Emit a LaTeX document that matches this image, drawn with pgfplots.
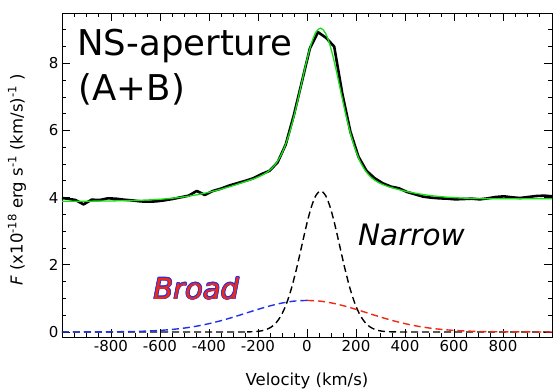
\documentclass[border=0pt]{standalone}
\usepackage{fontspec}
\setmainfont{DejaVu Sans}
\usepackage{pgfplots}
\usepackage{pgfplotstable}
\pgfplotsset{compat=1.18}

\definecolor{fitgreen}{RGB}{20,225,20}
\definecolor{broadblue}{RGB}{30,50,235}
\definecolor{broadred}{RGB}{240,40,20}

% observed spectrum
\pgfplotstableread{
v F
-1000 3.99
-978 3.97
-945 3.93
-912 3.80
-879 3.94
-846 3.93
-813 3.98
-780 3.97
-747 3.94
-714 3.92
-681 3.89
-648 3.88
-615 3.89
-582 3.92
-549 3.96
-516 4.01
-483 4.06
-450 4.20
-417 4.08
-384 4.20
-351 4.27
-318 4.36
-285 4.43
-252 4.50
-219 4.58
-186 4.70
-153 4.80
-120 5.05
-87 5.58
-54 6.45
-21 7.45
12 8.45
45 8.93
78 8.76
111 8.50
144 7.10
177 5.97
210 5.22
243 4.80
276 4.58
309 4.43
342 4.33
375 4.28
408 4.17
441 4.10
474 4.03
507 4.00
540 3.98
573 3.97
606 3.95
639 3.96
672 3.97
705 3.95
738 3.98
771 4.02
804 4.04
837 4.01
870 3.99
903 4.02
936 4.05
969 4.06
1000 4.04
}\obs

% total model (continuum + narrow + broad)
\pgfplotstableread{
v F
-1000 3.890
-950 3.893
-900 3.895
-850 3.898
-800 3.903
-750 3.909
-700 3.918
-650 3.932
-600 3.953
-550 3.984
-500 4.027
-450 4.086
-400 4.162
-350 4.255
-300 4.362
-244 4.496
-224 4.545
-204 4.600
-184 4.667
-164 4.752
-144 4.871
-124 5.044
-104 5.296
-84 5.651
-64 6.121
-44 6.699
-24 7.346
-4 7.994
16 8.552
36 8.926
56 9.049
76 8.894
96 8.488
116 7.900
136 7.225
156 6.551
176 5.951
196 5.461
216 5.090
236 4.826
256 4.644
276 4.521
296 4.435
316 4.371
336 4.321
356 4.278
400 4.194
450 4.122
500 4.067
550 4.028
600 4.001
650 3.984
700 3.974
750 3.969
800 3.967
850 3.966
900 3.967
950 3.969
1000 3.970
}\model

% narrow component
\pgfplotstableread{
v F
-1000 0
-300 0
-244 0.003
-224 0.007
-204 0.016
-184 0.037
-164 0.079
-144 0.157
-124 0.293
-104 0.512
-84 0.839
-64 1.286
-44 1.846
-24 2.482
-4 3.124
16 3.683
36 4.064
56 4.200
76 4.064
96 3.683
116 3.124
136 2.482
156 1.846
176 1.286
196 0.839
216 0.512
236 0.293
256 0.157
276 0.079
296 0.037
316 0.016
336 0.007
356 0.003
420 0
1000 0
}\narrow

% broad component, blue wing
\pgfplotstableread{
v F
-1000 0.000
-950 0.0005
-900 0.001
-850 0.002
-800 0.005
-750 0.009
-700 0.016
-650 0.028
-600 0.047
-550 0.076
-500 0.117
-450 0.174
-400 0.248
-350 0.339
-300 0.444
-250 0.559
-200 0.674
-150 0.779
-100 0.865
-50 0.921
0 0.940
}\broadblue

% broad component, red wing
\pgfplotstableread{
v F
0 0.940
50 0.921
100 0.865
150 0.779
200 0.674
250 0.559
300 0.444
350 0.339
400 0.248
450 0.174
500 0.117
550 0.076
600 0.047
650 0.028
700 0.016
750 0.009
800 0.005
850 0.002
900 0.001
950 0.0005
1000 0.000
}\broadred

\begin{document}
\begin{tikzpicture}
\begin{axis}[
  scale only axis, width=490pt, height=324pt,
  xmin=-1000, xmax=1000, ymin=-0.15, ymax=9.5,
  axis line style={line width=0.9pt},
  tick style={black, line width=0.8pt},
  tick align=inside,
  major tick length=8pt, minor tick length=4pt,
  xtick={-800,-600,-400,-200,0,200,400,600,800},
  xticklabels={-800,-600,-400,-200,0,200,400,600,800},
  minor xtick={-950,-900,...,950},
  ytick={0,2,4,6,8}, yticklabels={0,2,4,6,8},
  minor ytick={0,0.5,...,9.5},
  xtick pos=both, ytick pos=both,
  xticklabel pos=lower, yticklabel pos=left,
  ticklabel style={font=\fontsize{15}{15}\selectfont},
  xlabel={Velocity (km/s)},
  ylabel={\textit{F} (x10\textsuperscript{-18} erg s\textsuperscript{-1} (km/s)\textsuperscript{-1} )},
  xlabel style={font=\fontsize{16.5}{16.5}\selectfont, at={(axis description cs:0.5,-0.136)}, anchor=center},
  ylabel style={font=\fontsize{16.5}{16.5}\selectfont, at={(axis description cs:-0.092,0.485)}, anchor=center},
  clip=true,
]
\addplot[black, line width=2.6pt, line join=round] table[x=v,y=F] {\obs};
\addplot[fitgreen, line width=1.3pt, smooth] table[x=v,y=F] {\model};
\addplot[black, line width=1.4pt, dash pattern=on 7pt off 4pt, smooth] table[x=v,y=F] {\narrow};
\addplot[broadblue, line width=1.4pt, dash pattern=on 7pt off 4pt, smooth] table[x=v,y=F] {\broadblue};
\addplot[broadred, line width=1.4pt, dash pattern=on 7pt off 4pt, smooth] table[x=v,y=F] {\broadred};

\node[anchor=base west, inner sep=0, font=\fontsize{35.5}{35.5}\selectfont] at (axis description cs:0.031,0.870) {NS-aperture};
\node[anchor=base west, inner sep=0, font=\fontsize{35.5}{35.5}\selectfont] at (axis description cs:0.034,0.731) {(A+B)};
\node[anchor=base west, inner sep=0, font=\fontsize{29.5}{29.5}\selectfont\itshape] at (axis description cs:0.604,0.281) {Narrow};

% outlined label of the broad component
\node[anchor=base west, inner sep=0, font=\fontsize{29}{29}\selectfont\itshape, text=broadblue, xshift=0.7pt] at (axis description cs:0.186,0.117) {Broad};
\node[anchor=base west, inner sep=0, font=\fontsize{29}{29}\selectfont\itshape, text=broadblue, xshift=-0.7pt] at (axis description cs:0.186,0.117) {Broad};
\node[anchor=base west, inner sep=0, font=\fontsize{29}{29}\selectfont\itshape, text=broadblue, yshift=0.7pt] at (axis description cs:0.186,0.117) {Broad};
\node[anchor=base west, inner sep=0, font=\fontsize{29}{29}\selectfont\itshape, text=broadblue, yshift=-0.7pt] at (axis description cs:0.186,0.117) {Broad};
\node[anchor=base west, inner sep=0, font=\fontsize{29}{29}\selectfont\itshape, text=broadblue, xshift=0.5pt, yshift=0.5pt] at (axis description cs:0.186,0.117) {Broad};
\node[anchor=base west, inner sep=0, font=\fontsize{29}{29}\selectfont\itshape, text=broadblue, xshift=-0.5pt, yshift=0.5pt] at (axis description cs:0.186,0.117) {Broad};
\node[anchor=base west, inner sep=0, font=\fontsize{29}{29}\selectfont\itshape, text=broadblue, xshift=0.5pt, yshift=-0.5pt] at (axis description cs:0.186,0.117) {Broad};
\node[anchor=base west, inner sep=0, font=\fontsize{29}{29}\selectfont\itshape, text=broadblue, xshift=-0.5pt, yshift=-0.5pt] at (axis description cs:0.186,0.117) {Broad};
\node[anchor=base west, inner sep=0, font=\fontsize{29}{29}\selectfont\itshape, text=broadred] at (axis description cs:0.186,0.117) {Broad};

\coordinate (sw) at (rel axis cs:0,0);
\coordinate (ne) at (rel axis cs:1,1);
\end{axis}
\pgfresetboundingbox
\path[use as bounding box] ([shift={(-62pt,-53pt)}]sw) rectangle ([shift={(1pt,13pt)}]ne);
\end{tikzpicture}
\end{document}
